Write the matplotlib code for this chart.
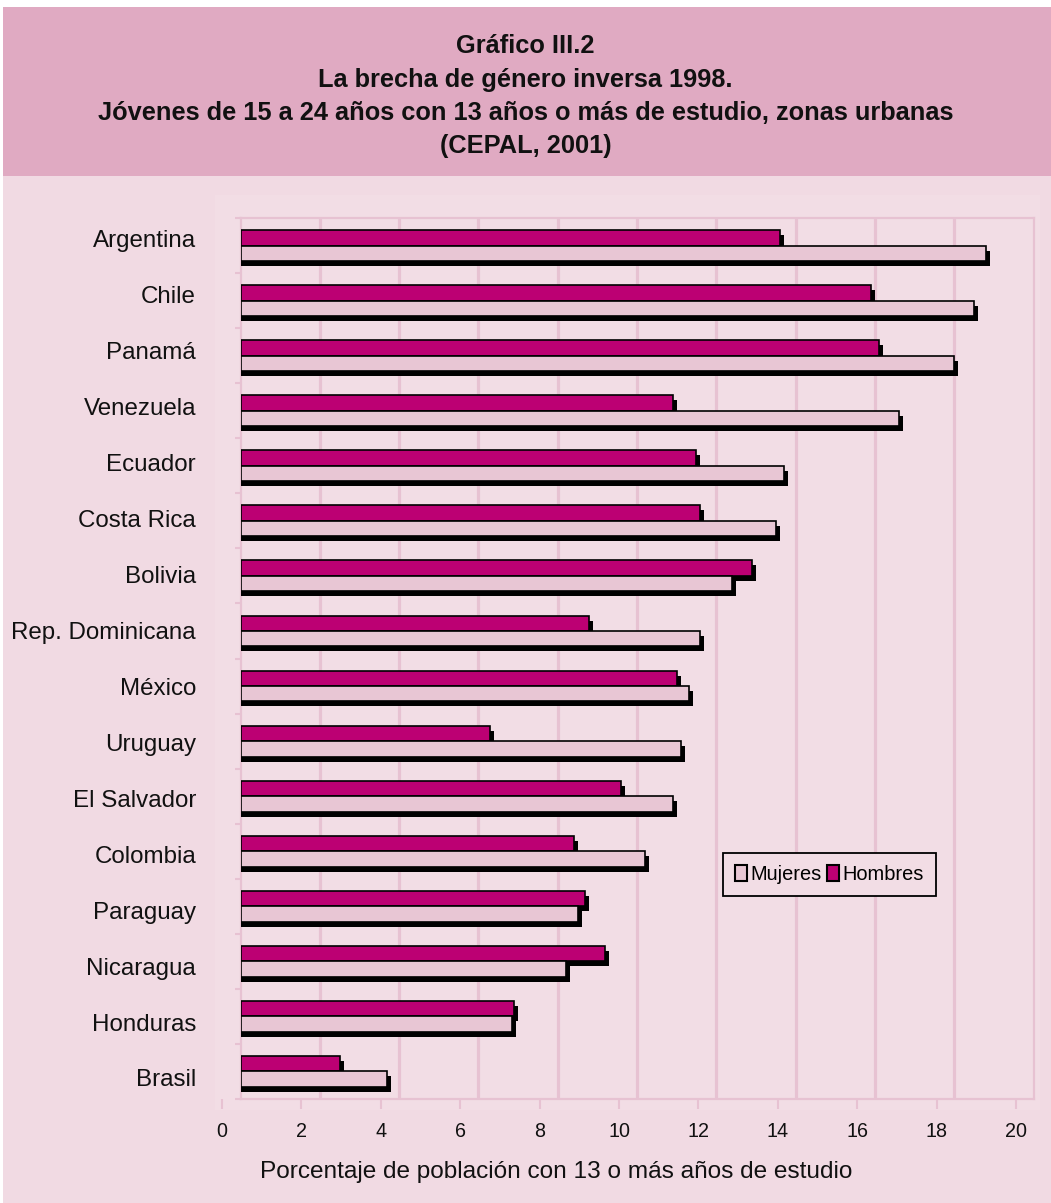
import matplotlib
matplotlib.use("Agg")
import matplotlib.pyplot as plt
import matplotlib.patches as mpatches
import matplotlib.transforms as mtransforms
import numpy as np

# ---------------- data (top to bottom) ----------------
countries = ["Argentina", "Chile", "Panamá", "Venezuela", "Ecuador", "Costa Rica",
             "Bolivia", "Rep. Dominicana", "México", "Uruguay", "El Salvador",
             "Colombia", "Paraguay", "Nicaragua", "Honduras", "Brasil"]
hombres = [13.6, 15.9, 16.1, 10.9, 11.5, 11.6, 12.9, 8.8, 11.0, 6.3, 9.6,
           8.4, 8.7, 9.2, 6.9, 2.5]
mujeres = [18.8, 18.5, 18.0, 16.6, 13.7, 13.5, 12.4, 11.6, 11.3, 11.1, 10.9,
           10.2, 8.5, 8.2, 6.85, 3.7]
xticks = [0, 2, 4, 6, 8, 10, 12, 14, 16, 18, 20]
title_lines = ["Gráfico III.2",
               "La brecha de género inversa 1998.",
               "Jóvenes de 15 a 24 años con 13 años o más de estudio, zonas urbanas",
               "(CEPAL, 2001)"]
xlabel = "Porcentaje de población con 13 o más años de estudio"
legend_labels = ["Mujeres", "Hombres"]

# ---------------- style ----------------
W, H = 1051, 1203
DPI = 100
C_HEADER = "#E0AAC2"
C_BODY = "#F1DAE3"
C_PLOTBG = "#F2DDE5"
C_WALL = "#F2DDE5"
C_GRID = "#E7C2D2"
C_H = "#BC0073"
C_M = "#E8C6D4"
REG = ["Liberation Sans", "DejaVu Sans"]


def fx(px):
    return px / W


def fy(py):
    return 1 - py / H


fig = plt.figure(figsize=(W / DPI, H / DPI), dpi=DPI, facecolor="white")

# background panels
fig.patches.append(mpatches.Rectangle((fx(3), fy(H)), 1 - fx(3), fy(176) - fy(H),
                                      transform=fig.transFigure, facecolor=C_BODY,
                                      edgecolor="none", zorder=-10))
fig.patches.append(mpatches.Rectangle((fx(3), fy(176)), 1 - fx(3), fy(7) - fy(176),
                                      transform=fig.transFigure, facecolor=C_HEADER,
                                      edgecolor="none", zorder=-10))
fig.patches.append(mpatches.Rectangle((fx(215), fy(1110)), fx(1040) - fx(215), fy(195) - fy(1110),
                                      transform=fig.transFigure, facecolor=C_PLOTBG,
                                      edgecolor="none", zorder=-9))

# title
for line, py in zip(title_lines, [46, 80, 113, 146]):
    fig.text(0.5, fy(py), line, ha="center", va="center", fontsize=18.3,
             fontweight="bold", family=REG, color="#111111")

# ---------------- back wall axes (bars + gridlines) ----------------
ax = fig.add_axes([fx(240.5), fy(1099), (1033.5 - 240.5) / W, (1099 - 218) / H])
ax.set_facecolor(C_WALL)
ax.set_xlim(0, 20)
ax.set_ylim(len(countries) - 0.5, -0.5)
ax.set_xticks(xticks[1:-1])
ax.tick_params(axis="x", length=0, labelbottom=False)
ax.grid(axis="x", color=C_GRID, linewidth=2.3, zorder=0)
ax.set_axisbelow(True)
ax.set_yticks([])
ax.set_yticks(np.arange(len(countries) + 1) - 0.5, minor=True)
ax.tick_params(axis="y", which="minor", length=4, width=1.5, color=C_GRID,
               labelleft=False)
for s in ax.spines.values():
    s.set_color(C_GRID)
    s.set_linewidth(1.6)

y = np.arange(len(countries))
bh = 0.28
off = 0.14
shadow = ax.transData + mtransforms.ScaledTranslation(4 / DPI, -5 / DPI, fig.dpi_scale_trans)
pad = 0.15
h_arr = np.array(hombres)
m_arr = np.array(mujeres)
ax.barh(y - off, h_arr + pad, left=-pad, height=bh, color="black", edgecolor="none",
        transform=shadow, zorder=2)
ax.barh(y - off, h_arr, height=bh, color=C_H, edgecolor="black", linewidth=1.2, zorder=3)
ax.barh(y + off, m_arr + pad, left=-pad, height=bh, color="black", edgecolor="none",
        transform=shadow, zorder=4)
ax.barh(y + off, m_arr, height=bh, color=C_M, edgecolor="black", linewidth=1.2, zorder=5)

# ---------------- front frame axes (labels + value axis) ----------------
axf = fig.add_axes([fx(222), fy(1104), (1016 - 222) / W, (1104 - 211) / H])
axf.set_facecolor("none")
axf.set_xlim(0, 20)
axf.set_ylim(15.466, -0.5006)
axf.set_yticks(y)
axf.set_yticklabels(countries, family=REG, fontsize=17.4, color="#111111")
axf.tick_params(axis="y", length=0, pad=18.7)
axf.set_xticks(xticks)
axf.set_xticklabels([str(t) for t in xticks], family=REG, fontsize=14.2,
                    color="#111111")
axf.tick_params(axis="x", direction="inout", length=6.5, width=1.5, color=C_GRID,
                pad=9.5)
for s in axf.spines.values():
    s.set_visible(False)

fig.text(fx(556), fy(1172), xlabel, ha="center", va="center", fontsize=17.6,
         family=REG, color="#111111")

# legend
handles = [mpatches.Patch(facecolor=C_M, edgecolor="black", linewidth=1.5),
           mpatches.Patch(facecolor=C_H, edgecolor="black", linewidth=1.5)]
leg = fig.legend(handles, legend_labels, loc="upper left",
                 bbox_to_anchor=(fx(723), fy(853)), ncol=2, frameon=True,
                 fancybox=False, prop={"family": REG, "size": 14.4},
                 handlelength=0.6, handleheight=0.8, handletextpad=0.15,
                 columnspacing=0.3, borderpad=0.6, borderaxespad=0)
leg.get_frame().set_edgecolor("black")
leg.get_frame().set_linewidth(1.3)
leg.get_frame().set_facecolor(C_WALL)
leg.get_frame().set_alpha(1)

fig.savefig("out.png", dpi=DPI, facecolor=fig.get_facecolor())
